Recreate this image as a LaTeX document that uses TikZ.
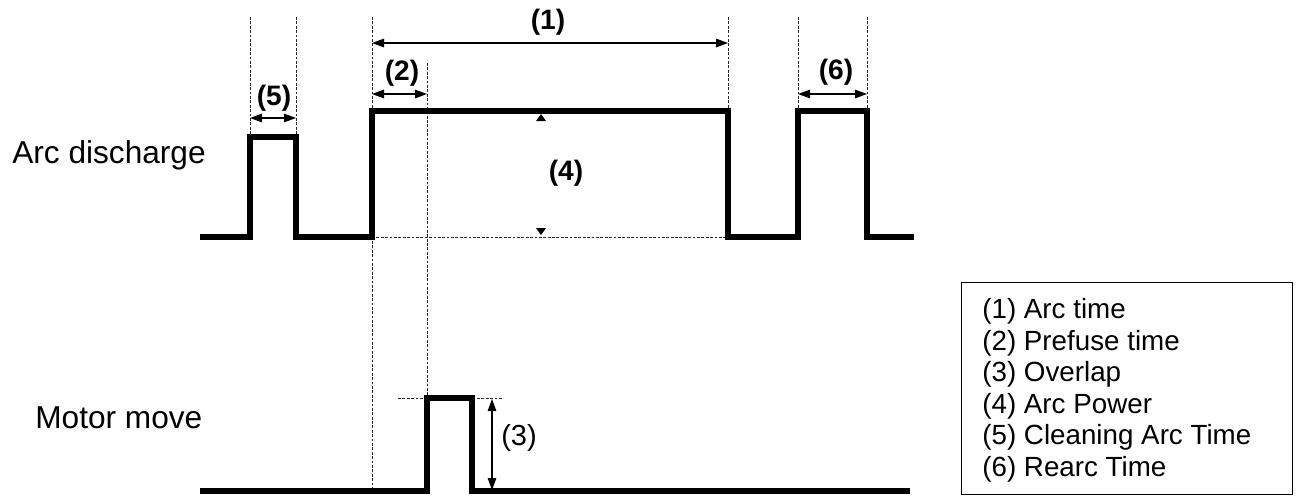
\documentclass[tikz,border=0pt]{standalone}
\usepackage{fontspec}
\setmainfont{Liberation Sans}
\usetikzlibrary{arrows.meta, positioning, calc}
\tikzset{
    signal/.style={line width=3.4pt, line join=miter, draw=black},
    guide/.style={dash pattern=on 1.6pt off 0.9pt, line width=0.5pt, draw=black!85},
    dimarrow/.style={{Triangle[length=2.4mm, width=1.7mm]}-{Triangle[length=2.4mm, width=1.7mm]}, line width=0.7pt},
    numlabel/.style={font=\bfseries\fontsize{16}{18}\selectfont, inner sep=1pt},
    signame/.style={font=\fontsize{18}{21}\selectfont, anchor=west, inner sep=0pt},
    legendbox/.style={draw, line width=0.8pt, minimum width=6.62cm, minimum height=4.24cm, anchor=north west, inner sep=0pt},
    legendtext/.style={font=\fontsize{15.8}{18}\selectfont, align=left, anchor=north west, inner sep=0pt}
}
\begin{document}
\begin{tikzpicture}[x=0.02cm, y=-0.02cm]
    \useasboundingbox (0,0) rectangle (1297,497);
    % signal names
    \node[signame] (arcname) at (12,155) {Arc discharge};
    \node[signame] (motorname) at (35,418) {Motor move};
    % key points of the arc signal
    \coordinate (cleanL) at (250,137);
    \coordinate (cleanR) at (296,137);
    \coordinate (arcL) at (372,111);
    \coordinate (arcR) at (728,111);
    \coordinate (rearcL) at (798,111);
    \coordinate (rearcR) at (867,111);
    \coordinate (arcLlow) at (372,237);
    \coordinate (arcRlow) at (728,237);
    \coordinate (motorL) at (427,398);
    \coordinate (motorR) at (472,398);
    % guide lines
    \draw[guide] (250,17) -- (cleanL);
    \draw[guide] (296,17) -- (cleanR);
    \draw[guide] (372,17) -- (372,491);
    \draw[guide] (427,63) -- (motorL);
    \draw[guide] (728,17) -- (arcR);
    \draw[guide] (798,17) -- (rearcL);
    \draw[guide] (867,17) -- (rearcR);
    \draw[guide] (arcLlow) -- (arcRlow);
    \draw[guide] (398,398) -- (503,398);
    % waveforms
    \draw[signal] (200,237) -| (cleanL) -| (296,237) -| (arcL) -| (arcRlow) -| (rearcL) -| (867,237) -- (914,237);
    \draw[signal] (200,491) -| (motorL) -| (472,491) -- (910,491);
    % dimension arrows
    \coordinate (d1a) at (372,43);  \coordinate (d1b) at (728,43);
    \coordinate (d2a) at (372,94);  \coordinate (d2b) at (427,94);
    \coordinate (d5a) at (250,118); \coordinate (d5b) at (296,118);
    \coordinate (d6a) at (798,94);  \coordinate (d6b) at (867,94);
    \coordinate (d3a) at (492,399); \coordinate (d3b) at (492,490);
    \draw[dimarrow] (d1a) -- (d1b);
    \draw[dimarrow] (d2a) -- (d2b);
    \draw[dimarrow] (d5a) -- (d5b);
    \draw[dimarrow] (d6a) -- (d6b);
    \draw[dimarrow] (d3a) -- (d3b);
    \node[numlabel] (lab1) at (548,22) {(1)};
    \node[numlabel] (lab2) at (402,73) {(2)};
    \node[numlabel] (lab5) at (274,98) {(5)};
    \node[numlabel] (lab6) at (836,72) {(6)};
    \node[numlabel] (lab4) at (566,173) {(4)};
    \node[font=\fontsize{16.5}{19}\selectfont, inner sep=1pt] (lab3) at (519,438) {(3)};
    % arc power marks
    \fill (536,121) -- (546,121) -- (541,114) -- cycle;
    \fill (536,228) -- (546,228) -- (541,235) -- cycle;
    % legend
    \node[legendbox] (legend) at (961,282) {};
    \node[legendtext] (legendlist) at (982,298) {(1) Arc time\\(2) Prefuse time\\(3) Overlap\\(4) Arc Power\\(5) Cleaning Arc Time\\(6) Rearc Time};
\end{tikzpicture}
\end{document}
